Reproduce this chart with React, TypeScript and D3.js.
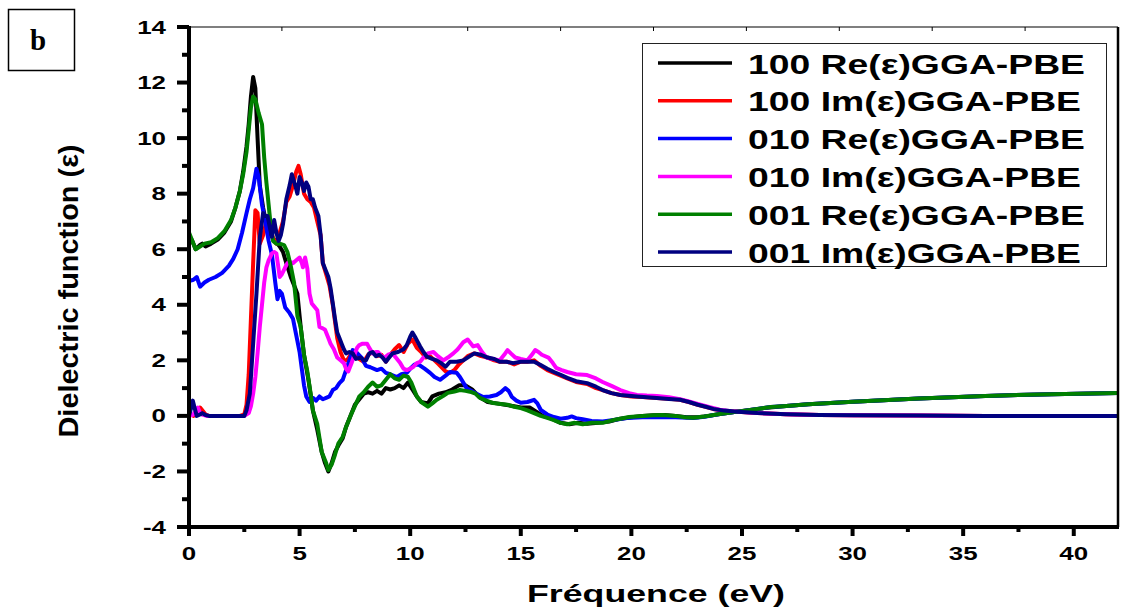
import React from "react";
import * as d3 from "d3";

type Pt = [number, number];

const X_TICKS = [0, 5, 10, 15, 20, 25, 30, 35, 40];
const Y_TICKS = [-4, -2, 0, 2, 4, 6, 8, 10, 12, 14];
const SERIES_NAMES = [
  "100 Re(ε)GGA-PBE",
  "100 Im(ε)GGA-PBE",
  "010 Re(ε)GGA-PBE",
  "010 Im(ε)GGA-PBE",
  "001 Re(ε)GGA-PBE",
  "001 Im(ε)GGA-PBE",
];
const SERIES_COLORS = ["#000000", "#ff0000", "#0000ff", "#ff00ff", "#008000", "#000080"];

const re100: Pt[] = [[0,6.5],[0.15,6.3],[0.3,6.0],[0.5,6.15],[0.6,6.2],[0.75,6.1],[1.0,6.2],[1.3,6.35],[1.6,6.6],[1.9,7.0],[2.1,7.5],[2.3,8.1],[2.45,8.8],[2.6,9.7],[2.7,10.5],[2.8,11.5],[2.9,12.2],[3.0,11.8],[3.1,10.0],[3.2,8.3],[3.35,7.5],[3.5,6.9],[3.7,6.5],[3.9,6.3],[4.1,6.1],[4.25,5.9],[4.4,5.5],[4.6,5.0],[4.8,4.6],[4.9,4.4],[5.05,3.2],[5.2,2.2],[5.4,1.3],[5.6,0.2],[5.8,-0.5],[6.0,-1.3],[6.15,-1.7],[6.3,-2.0],[6.45,-1.7],[6.6,-1.3],[6.8,-1.0],[6.95,-0.8],[7.1,-0.4],[7.3,0.0],[7.5,0.4],[7.7,0.6],[7.9,0.8],[8.1,0.85],[8.3,0.8],[8.5,0.9],[8.7,0.8],[8.9,1.0],[9.1,0.95],[9.3,1.0],[9.5,1.1],[9.7,1.0],[9.9,1.2],[10.1,0.95],[10.3,0.7],[10.5,0.5],[10.8,0.45],[11.0,0.7],[11.3,0.8],[11.6,0.85],[11.9,0.95],[12.2,1.1],[12.5,1.1],[12.8,0.95],[13.1,0.7],[13.5,0.5],[13.9,0.45],[14.3,0.4],[14.7,0.35],[15.0,0.3],[15.4,0.3],[15.7,0.15],[16.0,0.0],[16.4,-0.1],[16.8,-0.25],[17.2,-0.3],[17.6,-0.25],[18.0,-0.28],[18.5,-0.25],[19.0,-0.2],[19.5,-0.1],[20.0,-0.05],[20.5,0.0],[21.0,0.02],[21.5,0.03],[22.0,0.0],[22.5,-0.05],[23.0,-0.05],[23.5,0.0],[24.0,0.07],[24.5,0.12],[25.0,0.18],[26.0,0.28],[27.0,0.36],[28.0,0.42],[30.0,0.51],[33.0,0.63],[36.0,0.72],[39.0,0.78],[42.0,0.82]];

const im100: Pt[] = [[0,0.0],[0.1,0.05],[0.2,0.0],[0.35,0.05],[0.5,0.3],[0.6,0.2],[0.75,0.05],[0.9,0.0],[1.2,0.0],[1.8,0.0],[2.3,0.0],[2.5,0.05],[2.6,0.4],[2.7,1.5],[2.8,3.5],[2.9,5.5],[3.0,7.4],[3.1,7.3],[3.2,6.2],[3.35,6.5],[3.5,7.0],[3.65,6.8],[3.8,6.4],[3.95,6.2],[4.1,6.6],[4.25,7.0],[4.4,7.7],[4.55,7.9],[4.7,8.3],[4.85,8.8],[4.95,9.0],[5.05,8.7],[5.2,8.0],[5.35,7.8],[5.5,7.7],[5.65,7.5],[5.8,7.0],[5.95,6.5],[6.05,5.5],[6.2,5.1],[6.35,4.7],[6.5,4.0],[6.7,2.8],[6.85,2.3],[7.0,2.0],[7.15,2.0],[7.3,2.2],[7.5,2.25],[7.7,2.05],[7.9,1.95],[8.1,2.2],[8.3,2.3],[8.5,2.15],[8.7,2.2],[8.9,1.95],[9.1,2.2],[9.3,2.4],[9.5,2.55],[9.7,2.3],[9.9,2.6],[10.1,2.75],[10.3,2.45],[10.5,2.3],[10.7,2.1],[10.9,2.15],[11.1,2.0],[11.3,1.85],[11.6,1.6],[11.8,1.55],[12.0,1.65],[12.2,1.85],[12.4,2.0],[12.6,2.15],[12.9,2.25],[13.2,2.15],[13.5,2.1],[13.8,2.0],[14.05,1.95],[14.4,1.95],[14.7,1.85],[15.0,1.95],[15.3,1.95],[15.6,2.0],[15.9,1.8],[16.2,1.65],[16.5,1.55],[16.8,1.45],[17.1,1.35],[17.5,1.22],[18.0,1.15],[18.4,1.0],[18.7,0.93],[19.1,0.82],[19.5,0.75],[20.0,0.7],[20.5,0.68],[21.15,0.64],[21.7,0.62],[22.2,0.58],[22.6,0.5],[23.0,0.4],[23.4,0.32],[23.7,0.25],[24.2,0.18],[24.8,0.15],[25.7,0.1],[27.0,0.06],[28.5,0.03],[30.0,0.02],[33.0,0.01],[36.0,0.0],[42.0,0.0]];

const re010: Pt[] = [[0,4.85],[0.2,4.9],[0.35,5.0],[0.5,4.65],[0.7,4.8],[0.9,4.9],[1.2,5.0],[1.5,5.15],[1.8,5.4],[2.0,5.65],[2.2,6.0],[2.4,6.6],[2.6,7.3],[2.75,7.8],[2.9,8.2],[3.05,8.9],[3.15,8.6],[3.3,7.6],[3.45,7.0],[3.6,6.3],[3.75,5.8],[3.9,4.8],[4.0,4.2],[4.1,4.5],[4.2,4.4],[4.35,3.9],[4.55,3.7],[4.7,3.5],[4.8,3.1],[4.9,2.7],[5.0,2.3],[5.1,1.7],[5.2,1.1],[5.3,0.7],[5.45,0.5],[5.6,0.65],[5.75,0.55],[5.9,0.7],[6.05,0.6],[6.2,0.65],[6.35,0.7],[6.5,0.93],[6.65,1.0],[6.8,1.18],[6.95,1.3],[7.1,1.65],[7.25,2.0],[7.4,2.37],[7.55,2.3],[7.8,2.1],[8.0,1.8],[8.2,1.75],[8.5,1.65],[8.7,1.7],[8.9,1.55],[9.1,1.5],[9.4,1.4],[9.6,1.5],[9.85,1.55],[10.0,1.7],[10.2,1.85],[10.4,1.84],[10.65,1.7],[10.9,1.55],[11.1,1.4],[11.35,1.3],[11.6,1.45],[11.8,1.58],[12.1,1.55],[12.25,1.4],[12.4,1.2],[12.55,1.0],[12.7,0.93],[13.0,0.8],[13.3,0.68],[13.6,0.7],[13.9,0.75],[14.1,0.85],[14.3,1.0],[14.45,0.9],[14.6,0.68],[14.8,0.55],[15.0,0.47],[15.3,0.5],[15.6,0.58],[15.75,0.45],[15.9,0.22],[16.2,0.05],[16.5,-0.04],[16.8,-0.1],[17.1,-0.07],[17.3,-0.02],[17.5,-0.08],[17.8,-0.12],[18.2,-0.18],[18.7,-0.2],[19.2,-0.15],[19.8,-0.08],[20.5,-0.05],[21.2,-0.05],[22.0,-0.05],[22.8,-0.08],[23.3,-0.03],[24.0,0.07],[24.5,0.12],[25.05,0.18],[26.3,0.32],[27.0,0.36],[28.0,0.42],[30.0,0.51],[33.0,0.63],[36.0,0.72],[39.0,0.78],[42.0,0.82]];

const im010: Pt[] = [[0,0.0],[0.2,0.05],[0.3,0.2],[0.4,0.3],[0.5,0.1],[0.6,0.05],[0.8,0.0],[1.5,0.0],[2.0,0.0],[2.5,0.0],[2.7,0.1],[2.8,0.35],[2.9,0.8],[3.0,1.4],[3.1,2.25],[3.2,3.2],[3.3,4.0],[3.4,4.8],[3.5,5.35],[3.6,5.6],[3.75,5.85],[3.85,5.9],[3.95,5.85],[4.05,5.3],[4.1,5.0],[4.2,5.1],[4.35,5.35],[4.45,5.5],[4.55,5.55],[4.7,5.5],[4.85,5.6],[5.0,5.7],[5.1,5.5],[5.15,5.35],[5.25,5.7],[5.35,5.3],[5.45,4.4],[5.55,4.05],[5.7,3.9],[5.8,3.8],[5.9,3.2],[6.05,3.15],[6.15,3.1],[6.3,2.8],[6.4,2.6],[6.55,2.4],[6.7,2.1],[6.85,2.0],[7.0,1.9],[7.1,1.7],[7.2,1.6],[7.35,1.9],[7.5,2.25],[7.6,2.45],[7.7,2.55],[7.85,2.6],[8.05,2.6],[8.15,2.45],[8.3,2.25],[8.45,2.3],[8.55,2.3],[8.7,2.15],[8.85,2.1],[9.0,2.2],[9.2,2.25],[9.35,2.1],[9.55,1.9],[9.7,1.7],[9.85,1.65],[10.0,1.7],[10.15,1.77],[10.3,1.9],[10.45,1.95],[10.6,2.1],[10.8,2.25],[11.05,2.3],[11.25,2.15],[11.5,2.0],[11.7,2.1],[11.95,2.25],[12.15,2.4],[12.4,2.65],[12.6,2.75],[12.85,2.5],[13.05,2.55],[13.25,2.3],[13.45,2.1],[13.75,2.05],[14.05,2.0],[14.25,2.2],[14.4,2.37],[14.55,2.25],[14.75,2.1],[15.0,2.05],[15.3,2.0],[15.5,2.2],[15.65,2.37],[15.8,2.3],[15.95,2.2],[16.25,2.1],[16.45,1.9],[16.6,1.73],[16.85,1.65],[17.1,1.58],[17.5,1.5],[18.0,1.47],[18.4,1.35],[18.7,1.22],[19.1,1.08],[19.5,0.93],[19.9,0.82],[20.25,0.75],[20.7,0.73],[21.15,0.72],[21.7,0.67],[22.2,0.6],[22.6,0.52],[23.0,0.43],[23.5,0.32],[24.0,0.22],[24.5,0.17],[24.9,0.15],[25.7,0.1],[27.0,0.06],[28.5,0.03],[30.0,0.02],[33.0,0.01],[36.0,0.0],[42.0,0.0]];

const re001: Pt[] = [[0,6.6],[0.15,6.3],[0.3,6.0],[0.5,6.1],[0.7,6.2],[1.0,6.25],[1.3,6.4],[1.6,6.65],[1.9,7.05],[2.1,7.5],[2.3,8.1],[2.45,8.7],[2.6,9.5],[2.7,10.3],[2.8,11.1],[2.9,11.5],[3.0,11.4],[3.15,10.9],[3.3,10.5],[3.4,9.3],[3.5,8.4],[3.6,7.6],[3.7,6.8],[3.8,6.3],[3.95,6.2],[4.1,6.2],[4.3,6.15],[4.45,5.9],[4.6,5.4],[4.75,4.8],[4.9,3.6],[5.05,3.2],[5.2,2.2],[5.35,1.6],[5.5,0.8],[5.6,0.2],[5.8,-0.3],[6.0,-1.3],[6.1,-1.5],[6.2,-1.7],[6.3,-1.95],[6.45,-1.75],[6.6,-1.4],[6.75,-1.0],[6.95,-0.75],[7.1,-0.4],[7.3,0.0],[7.5,0.35],[7.7,0.7],[7.9,0.85],[8.1,1.05],[8.3,1.2],[8.5,1.05],[8.7,1.1],[8.9,1.3],[9.1,1.5],[9.3,1.35],[9.5,1.3],[9.7,1.45],[9.9,1.4],[10.05,1.2],[10.3,0.7],[10.5,0.5],[10.8,0.33],[11.0,0.45],[11.2,0.58],[11.5,0.72],[11.7,0.83],[12.0,0.88],[12.25,0.93],[12.5,0.9],[12.7,0.87],[12.95,0.8],[13.15,0.65],[13.45,0.55],[13.75,0.46],[14.1,0.43],[14.4,0.4],[14.7,0.33],[15.0,0.28],[15.3,0.2],[15.6,0.1],[15.9,0.0],[16.2,-0.07],[16.5,-0.15],[16.8,-0.25],[17.1,-0.3],[17.4,-0.25],[17.8,-0.3],[18.2,-0.25],[18.7,-0.25],[19.2,-0.15],[19.9,-0.04],[20.5,0.0],[21.0,0.02],[21.4,0.03],[22.0,0.0],[22.4,-0.05],[22.8,-0.07],[23.3,-0.02],[24.0,0.07],[24.5,0.12],[25.05,0.18],[26.3,0.32],[27.0,0.36],[28.0,0.42],[30.0,0.51],[33.0,0.63],[36.0,0.72],[39.0,0.78],[42.0,0.82]];

const im001: Pt[] = [[0,0.0],[0.1,0.3],[0.17,0.55],[0.25,0.3],[0.35,0.0],[0.5,0.05],[0.6,0.1],[0.75,0.03],[0.9,0.0],[1.5,0.0],[2.0,0.0],[2.5,0.0],[2.6,0.2],[2.75,0.8],[2.9,2.6],[3.05,4.4],[3.2,6.4],[3.35,7.3],[3.45,7.2],[3.55,7.2],[3.65,6.8],[3.75,6.45],[3.85,7.05],[3.95,6.6],[4.05,6.3],[4.15,6.5],[4.25,6.9],[4.4,7.8],[4.55,8.3],[4.65,8.7],[4.8,8.3],[4.9,8.0],[5.0,8.6],[5.1,8.4],[5.2,8.1],[5.3,8.4],[5.4,8.25],[5.5,7.8],[5.6,7.8],[5.7,7.5],[5.85,7.2],[5.95,6.5],[6.05,5.5],[6.2,5.2],[6.3,5.0],[6.4,4.6],[6.5,4.05],[6.6,3.5],[6.7,3.0],[6.8,2.8],[6.9,2.6],[7.0,2.4],[7.1,2.25],[7.25,2.3],[7.4,2.25],[7.55,2.05],[7.75,2.1],[7.9,2.0],[8.0,2.0],[8.15,2.25],[8.3,2.3],[8.45,2.15],[8.6,2.2],[8.75,2.1],[8.9,1.95],[9.05,2.1],[9.2,2.25],[9.45,2.3],[9.7,2.4],[9.85,2.55],[10.0,2.85],[10.1,3.0],[10.25,2.8],[10.45,2.5],[10.6,2.3],[10.75,2.13],[11.0,2.05],[11.2,2.0],[11.4,1.9],[11.6,1.77],[11.8,1.95],[12.1,1.95],[12.4,2.0],[12.7,2.15],[12.9,2.25],[13.2,2.2],[13.5,2.1],[13.8,2.05],[14.05,1.95],[14.35,1.95],[14.65,1.9],[15.0,1.95],[15.3,1.95],[15.6,1.95],[15.9,1.83],[16.2,1.7],[16.5,1.58],[16.8,1.48],[17.1,1.37],[17.5,1.25],[18.0,1.18],[18.4,1.05],[18.7,0.93],[19.1,0.82],[19.5,0.75],[20.25,0.7],[20.7,0.67],[21.15,0.64],[21.7,0.61],[22.2,0.58],[22.6,0.5],[23.0,0.4],[23.4,0.32],[23.7,0.25],[24.2,0.19],[24.8,0.15],[25.7,0.1],[27.0,0.06],[28.5,0.03],[30.0,0.02],[33.0,0.01],[36.0,0.0],[42.0,0.0]];

const SERIES_DATA: Pt[][] = [re100, im100, re010, im010, re001, im001];

const W = 1121;
const H = 611;
const PL = 189, PR = 1118, PT = 27, PB = 527;
const FONT = "'Liberation Sans', Arial, sans-serif";

export default function App() {
  const x = d3.scaleLinear().domain([0, 42]).range([PL, PR]);
  const y = d3.scaleLinear().domain([-4, 14]).range([PB, PT]);
  const line = d3
    .line<Pt>()
    .x((d) => x(d[0]))
    .y((d) => y(d[1]));

  const xMinor = d3.range(2.5, 42, 5);
  const yMinor = d3.range(-3, 14, 2);
  const topTicks = d3.range(1, 10).map((i) => i * 4.2);

  const legendRows = SERIES_NAMES.map((n, i) => ({ n, c: SERIES_COLORS[i], ly: 63 + i * 37.8 }));

  return (
    <svg
      width={W}
      height={H}
      style={{ position: "absolute", left: 0, top: 0, display: "block", background: "#fff" }}
    >
      <defs>
        <clipPath id="plotclip">
          <rect x={PL} y={PT} width={PR - PL} height={PB - PT} />
        </clipPath>
      </defs>
      <rect x={0} y={0} width={W} height={H} fill="#fff" />

      {/* panel label */}
      <rect x={8.5} y={9.5} width={66} height={61} fill="none" stroke="#000" strokeWidth={1.5} />
      <text x={38} y={50} textAnchor="middle" fontFamily="'Liberation Serif', 'Times New Roman', serif" fontWeight="bold" fontSize={29}>
        b
      </text>

      {/* data lines */}
      <g clipPath="url(#plotclip)">
        {SERIES_DATA.map((d, i) => (
          <path
            key={i}
            d={line(d) || ""}
            fill="none"
            stroke={SERIES_COLORS[i]}
            strokeWidth={4}
            strokeLinejoin="round"
            strokeLinecap="round"
          />
        ))}
      </g>

      {/* frame */}
      <line x1={PL} x2={PR} y1={PT} y2={PT} stroke="#000" strokeWidth={1.2} />
      <line x1={PR} x2={PR} y1={PT} y2={PB} stroke="#000" strokeWidth={2.5} />
      {topTicks.map((t) => (
        <line key={"tt" + t} x1={x(t)} x2={x(t)} y1={PT} y2={PT + 4} stroke="#000" strokeWidth={1} />
      ))}
      <line x1={PL - 2} x2={PR + 1} y1={PB} y2={PB} stroke="#000" strokeWidth={4} />
      <line x1={PL} x2={PL} y1={PT - 1} y2={PB + 2} stroke="#000" strokeWidth={4} />

      {/* x ticks */}
      {X_TICKS.map((t) => (
        <g key={"xt" + t}>
          <line x1={x(t)} x2={x(t)} y1={PB} y2={PB + 9} stroke="#000" strokeWidth={4} />
          <text
            transform={`translate(${x(t)},560) scale(1.4,1)`}
            textAnchor="middle"
            fontFamily={FONT}
            fontWeight="bold"
            fontSize={18.5}
          >
            {t}
          </text>
        </g>
      ))}
      {xMinor.map((t) => (
        <line key={"xm" + t} x1={x(t)} x2={x(t)} y1={PB} y2={PB + 5} stroke="#000" strokeWidth={4} />
      ))}

      {/* y ticks */}
      {Y_TICKS.map((t) => (
        <g key={"yt" + t}>
          <line x1={PL - 12} x2={PL} y1={y(t)} y2={y(t)} stroke="#000" strokeWidth={4} />
          <text
            transform={`translate(166,${y(t) + 6.6}) scale(1.4,1)`}
            textAnchor="end"
            fontFamily={FONT}
            fontWeight="bold"
            fontSize={18.5}
          >
            {t}
          </text>
        </g>
      ))}
      {yMinor.map((t) => (
        <line key={"ym" + t} x1={PL - 7} x2={PL} y1={y(t)} y2={y(t)} stroke="#000" strokeWidth={4} />
      ))}

      {/* axis titles */}
      <text
        x={656}
        y={602}
        textAnchor="middle"
        fontFamily={FONT}
        fontWeight="bold"
        fontSize={23}
        textLength={258}
        lengthAdjust="spacingAndGlyphs"
      >
        Fréquence (eV)
      </text>
      <text
        transform="translate(78,291) rotate(-90)"
        textAnchor="middle"
        fontFamily={FONT}
        fontWeight="bold"
        fontSize={28}
        textLength={293}
        lengthAdjust="spacingAndGlyphs"
      >
        Dielectric function (ε)
      </text>

      {/* legend */}
      <rect x={642.5} y={43.5} width={464} height={223} fill="#fff" stroke="#222" strokeWidth={1} />
      {legendRows.map((r, i) => (
        <g key={"lg" + i}>
          <line x1={658} x2={732} y1={r.ly} y2={r.ly} stroke={r.c} strokeWidth={3.5} />
          <text
            x={748}
            y={r.ly + 10.5}
            fontFamily={FONT}
            fontWeight="bold"
            fontSize={28}
            textLength={r.n.includes("Im") ? 333 : 337}
            lengthAdjust="spacingAndGlyphs"
          >
            {r.n}
          </text>
        </g>
      ))}
    </svg>
  );
}
